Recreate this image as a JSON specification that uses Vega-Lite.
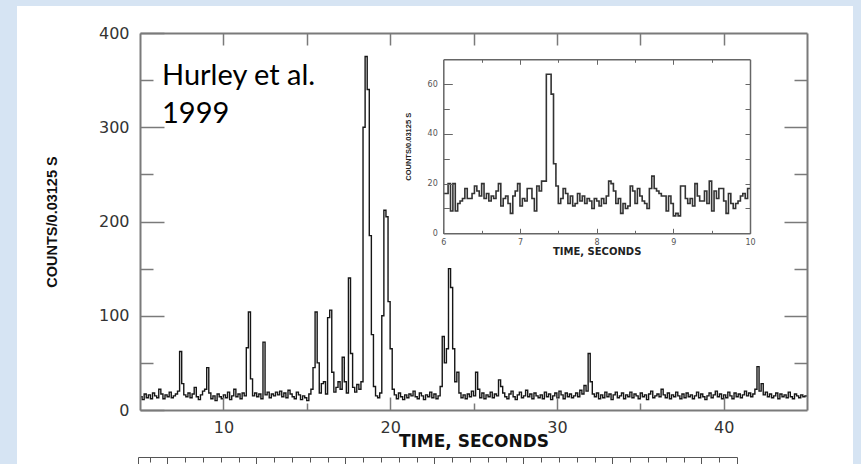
{
"$schema": "https://vega.github.io/schema/vega-lite/v6.json",
"width": 667, "height": 377,
"autosize": "none",
"padding": {"left": 140, "top": 33, "right": 54, "bottom": 54},
"background": "#d6e4f3",
"config": {"view": {"stroke": null}, "axis": {"grid": false, "labelFlush": false, "labelOverlap": false}},
"datasets": {
"main": [
{"t":5,"c":14},{"t":5.125,"c":11},{"t":5.25,"c":17},{"t":5.375,"c":13},{"t":5.5,"c":16},{"t":5.625,"c":12},{"t":5.75,"c":18},{"t":5.875,"c":15},
{"t":6,"c":13},{"t":6.125,"c":22},{"t":6.25,"c":17},{"t":6.375,"c":12},{"t":6.5,"c":16},{"t":6.625,"c":14},{"t":6.75,"c":19},{"t":6.875,"c":13},
{"t":7,"c":15},{"t":7.125,"c":17},{"t":7.25,"c":20},{"t":7.375,"c":62},{"t":7.5,"c":28},{"t":7.625,"c":16},{"t":7.75,"c":14},{"t":7.875,"c":18},
{"t":8,"c":13},{"t":8.125,"c":17},{"t":8.25,"c":24},{"t":8.375,"c":14},{"t":8.5,"c":11},{"t":8.625,"c":16},{"t":8.75,"c":20},{"t":8.875,"c":22},
{"t":9,"c":45},{"t":9.125,"c":18},{"t":9.25,"c":12},{"t":9.375,"c":15},{"t":9.5,"c":10},{"t":9.625,"c":17},{"t":9.75,"c":14},{"t":9.875,"c":12},
{"t":10,"c":16},{"t":10.125,"c":13},{"t":10.25,"c":19},{"t":10.375,"c":11},{"t":10.5,"c":15},{"t":10.625,"c":22},{"t":10.75,"c":14},{"t":10.875,"c":17},
{"t":11,"c":12},{"t":11.125,"c":18},{"t":11.25,"c":15},{"t":11.375,"c":66},{"t":11.5,"c":104},{"t":11.625,"c":33},{"t":11.75,"c":15},{"t":11.875,"c":18},
{"t":12,"c":14},{"t":12.125,"c":17},{"t":12.25,"c":12},{"t":12.375,"c":72},{"t":12.5,"c":16},{"t":12.625,"c":19},{"t":12.75,"c":13},{"t":12.875,"c":17},
{"t":13,"c":15},{"t":13.125,"c":19},{"t":13.25,"c":16},{"t":13.375,"c":20},{"t":13.5,"c":14},{"t":13.625,"c":18},{"t":13.75,"c":13},{"t":13.875,"c":21},
{"t":14,"c":17},{"t":14.125,"c":14},{"t":14.25,"c":12},{"t":14.375,"c":19},{"t":14.5,"c":16},{"t":14.625,"c":11},{"t":14.75,"c":15},{"t":14.875,"c":13},
{"t":15,"c":10},{"t":15.125,"c":17},{"t":15.25,"c":22},{"t":15.375,"c":45},{"t":15.5,"c":104},{"t":15.625,"c":50},{"t":15.75,"c":18},{"t":15.875,"c":28},
{"t":16,"c":30},{"t":16.125,"c":17},{"t":16.25,"c":98},{"t":16.375,"c":106},{"t":16.5,"c":40},{"t":16.625,"c":19},{"t":16.75,"c":24},{"t":16.875,"c":30},
{"t":17,"c":22},{"t":17.125,"c":56},{"t":17.25,"c":30},{"t":17.375,"c":18},{"t":17.5,"c":140},{"t":17.625,"c":60},{"t":17.75,"c":24},{"t":17.875,"c":19},
{"t":18,"c":27},{"t":18.125,"c":22},{"t":18.25,"c":30},{"t":18.375,"c":300},{"t":18.5,"c":375},{"t":18.625,"c":340},{"t":18.75,"c":185},{"t":18.875,"c":80},
{"t":19,"c":25},{"t":19.125,"c":15},{"t":19.25,"c":13},{"t":19.375,"c":18},{"t":19.5,"c":100},{"t":19.625,"c":212},{"t":19.75,"c":205},{"t":19.875,"c":115},
{"t":20,"c":65},{"t":20.125,"c":22},{"t":20.25,"c":16},{"t":20.375,"c":12},{"t":20.5,"c":18},{"t":20.625,"c":14},{"t":20.75,"c":11},{"t":20.875,"c":16},
{"t":21,"c":13},{"t":21.125,"c":17},{"t":21.25,"c":15},{"t":21.375,"c":20},{"t":21.5,"c":14},{"t":21.625,"c":12},{"t":21.75,"c":18},{"t":21.875,"c":15},
{"t":22,"c":11},{"t":22.125,"c":16},{"t":22.25,"c":14},{"t":22.375,"c":19},{"t":22.5,"c":13},{"t":22.625,"c":17},{"t":22.75,"c":12},{"t":22.875,"c":15},
{"t":23,"c":25},{"t":23.125,"c":78},{"t":23.25,"c":50},{"t":23.375,"c":65},{"t":23.5,"c":150},{"t":23.625,"c":130},{"t":23.75,"c":65},{"t":23.875,"c":30},
{"t":24,"c":40},{"t":24.125,"c":18},{"t":24.25,"c":13},{"t":24.375,"c":16},{"t":24.5,"c":12},{"t":24.625,"c":17},{"t":24.75,"c":14},{"t":24.875,"c":20},
{"t":25,"c":15},{"t":25.125,"c":40},{"t":25.25,"c":22},{"t":25.375,"c":13},{"t":25.5,"c":18},{"t":25.625,"c":12},{"t":25.75,"c":16},{"t":25.875,"c":14},
{"t":26,"c":19},{"t":26.125,"c":13},{"t":26.25,"c":17},{"t":26.375,"c":15},{"t":26.5,"c":32},{"t":26.625,"c":25},{"t":26.75,"c":18},{"t":26.875,"c":14},
{"t":27,"c":12},{"t":27.125,"c":17},{"t":27.25,"c":20},{"t":27.375,"c":14},{"t":27.5,"c":11},{"t":27.625,"c":16},{"t":27.75,"c":19},{"t":27.875,"c":13},
{"t":28,"c":15},{"t":28.125,"c":21},{"t":28.25,"c":14},{"t":28.375,"c":17},{"t":28.5,"c":12},{"t":28.625,"c":18},{"t":28.75,"c":15},{"t":28.875,"c":13},
{"t":29,"c":16},{"t":29.125,"c":12},{"t":29.25,"c":19},{"t":29.375,"c":14},{"t":29.5,"c":17},{"t":29.625,"c":11},{"t":29.75,"c":15},{"t":29.875,"c":18},
{"t":30,"c":13},{"t":30.125,"c":20},{"t":30.25,"c":16},{"t":30.375,"c":12},{"t":30.5,"c":18},{"t":30.625,"c":14},{"t":30.75,"c":17},{"t":30.875,"c":13},
{"t":31,"c":15},{"t":31.125,"c":18},{"t":31.25,"c":14},{"t":31.375,"c":21},{"t":31.5,"c":17},{"t":31.625,"c":26},{"t":31.75,"c":20},{"t":31.875,"c":60},
{"t":32,"c":30},{"t":32.125,"c":17},{"t":32.25,"c":14},{"t":32.375,"c":18},{"t":32.5,"c":12},{"t":32.625,"c":16},{"t":32.75,"c":13},{"t":32.875,"c":19},
{"t":33,"c":14},{"t":33.125,"c":17},{"t":33.25,"c":11},{"t":33.375,"c":16},{"t":33.5,"c":19},{"t":33.625,"c":13},{"t":33.75,"c":15},{"t":33.875,"c":18},
{"t":34,"c":12},{"t":34.125,"c":16},{"t":34.25,"c":14},{"t":34.375,"c":19},{"t":34.5,"c":13},{"t":34.625,"c":17},{"t":34.75,"c":15},{"t":34.875,"c":12},
{"t":35,"c":18},{"t":35.125,"c":14},{"t":35.25,"c":16},{"t":35.375,"c":11},{"t":35.5,"c":17},{"t":35.625,"c":20},{"t":35.75,"c":13},{"t":35.875,"c":15},
{"t":36,"c":17},{"t":36.125,"c":14},{"t":36.25,"c":22},{"t":36.375,"c":16},{"t":36.5,"c":13},{"t":36.625,"c":18},{"t":36.75,"c":12},{"t":36.875,"c":16},
{"t":37,"c":14},{"t":37.125,"c":19},{"t":37.25,"c":15},{"t":37.375,"c":12},{"t":37.5,"c":17},{"t":37.625,"c":13},{"t":37.75,"c":18},{"t":37.875,"c":14},
{"t":38,"c":16},{"t":38.125,"c":12},{"t":38.25,"c":15},{"t":38.375,"c":19},{"t":38.5,"c":13},{"t":38.625,"c":17},{"t":38.75,"c":14},{"t":38.875,"c":11},
{"t":39,"c":15},{"t":39.125,"c":18},{"t":39.25,"c":13},{"t":39.375,"c":16},{"t":39.5,"c":20},{"t":39.625,"c":14},{"t":39.75,"c":17},{"t":39.875,"c":12},
{"t":40,"c":16},{"t":40.125,"c":13},{"t":40.25,"c":19},{"t":40.375,"c":15},{"t":40.5,"c":12},{"t":40.625,"c":18},{"t":40.75,"c":14},{"t":40.875,"c":17},
{"t":41,"c":13},{"t":41.125,"c":16},{"t":41.25,"c":20},{"t":41.375,"c":15},{"t":41.5,"c":18},{"t":41.625,"c":14},{"t":41.75,"c":17},{"t":41.875,"c":22},
{"t":42,"c":46},{"t":42.125,"c":20},{"t":42.25,"c":28},{"t":42.375,"c":16},{"t":42.5,"c":19},{"t":42.625,"c":14},{"t":42.75,"c":17},{"t":42.875,"c":13},
{"t":43,"c":15},{"t":43.125,"c":18},{"t":43.25,"c":12},{"t":43.375,"c":17},{"t":43.5,"c":14},{"t":43.625,"c":16},{"t":43.75,"c":13},{"t":43.875,"c":19},
{"t":44,"c":14},{"t":44.125,"c":12},{"t":44.25,"c":17},{"t":44.375,"c":15},{"t":44.5,"c":13},{"t":44.625,"c":16},{"t":44.75,"c":14},{"t":44.875,"c":15},
{"t":45,"c":14}
],
"inset": [
{"t":6,"c":16},{"t":6.03125,"c":16},{"t":6.0625,"c":20},{"t":6.09375,"c":9},{"t":6.125,"c":20},{"t":6.15625,"c":9},{"t":6.1875,"c":12},{"t":6.21875,"c":13},
{"t":6.25,"c":14},{"t":6.28125,"c":18},{"t":6.3125,"c":14},{"t":6.34375,"c":14},{"t":6.375,"c":16},{"t":6.40625,"c":19},{"t":6.4375,"c":17},{"t":6.46875,"c":15},
{"t":6.5,"c":20},{"t":6.53125,"c":14},{"t":6.5625,"c":16},{"t":6.59375,"c":13},{"t":6.625,"c":15},{"t":6.65625,"c":14},{"t":6.6875,"c":17},{"t":6.71875,"c":20},
{"t":6.75,"c":11},{"t":6.78125,"c":14},{"t":6.8125,"c":15},{"t":6.84375,"c":12},{"t":6.875,"c":8},{"t":6.90625,"c":15},{"t":6.9375,"c":17},{"t":6.96875,"c":20},
{"t":7,"c":11},{"t":7.03125,"c":14},{"t":7.0625,"c":13},{"t":7.09375,"c":18},{"t":7.125,"c":18},{"t":7.15625,"c":14},{"t":7.1875,"c":9},{"t":7.21875,"c":19},
{"t":7.25,"c":17},{"t":7.28125,"c":21},{"t":7.3125,"c":21},{"t":7.34375,"c":64},{"t":7.375,"c":64},{"t":7.40625,"c":56},{"t":7.4375,"c":28},{"t":7.46875,"c":19},
{"t":7.5,"c":12},{"t":7.53125,"c":14},{"t":7.5625,"c":18},{"t":7.59375,"c":16},{"t":7.625,"c":12},{"t":7.65625,"c":15},{"t":7.6875,"c":11},{"t":7.71875,"c":12},
{"t":7.75,"c":16},{"t":7.78125,"c":13},{"t":7.8125,"c":15},{"t":7.84375,"c":12},{"t":7.875,"c":14},{"t":7.90625,"c":13},{"t":7.9375,"c":10},{"t":7.96875,"c":14},
{"t":8,"c":13},{"t":8.03125,"c":11},{"t":8.0625,"c":14},{"t":8.09375,"c":12},{"t":8.125,"c":15},{"t":8.15625,"c":21},{"t":8.1875,"c":20},{"t":8.21875,"c":17},
{"t":8.25,"c":12},{"t":8.28125,"c":14},{"t":8.3125,"c":8},{"t":8.34375,"c":12},{"t":8.375,"c":10},{"t":8.40625,"c":11},{"t":8.4375,"c":19},{"t":8.46875,"c":17},
{"t":8.5,"c":12},{"t":8.53125,"c":18},{"t":8.5625,"c":15},{"t":8.59375,"c":13},{"t":8.625,"c":12},{"t":8.65625,"c":10},{"t":8.6875,"c":18},{"t":8.71875,"c":23},
{"t":8.75,"c":18},{"t":8.78125,"c":17},{"t":8.8125,"c":16},{"t":8.84375,"c":15},{"t":8.875,"c":15},{"t":8.90625,"c":9},{"t":8.9375,"c":15},{"t":8.96875,"c":12},
{"t":9,"c":7},{"t":9.03125,"c":8},{"t":9.0625,"c":7},{"t":9.09375,"c":19},{"t":9.125,"c":19},{"t":9.15625,"c":14},{"t":9.1875,"c":12},{"t":9.21875,"c":14},
{"t":9.25,"c":11},{"t":9.28125,"c":20},{"t":9.3125,"c":15},{"t":9.34375,"c":13},{"t":9.375,"c":13},{"t":9.40625,"c":17},{"t":9.4375,"c":12},{"t":9.46875,"c":21},
{"t":9.5,"c":9},{"t":9.53125,"c":17},{"t":9.5625,"c":14},{"t":9.59375,"c":18},{"t":9.625,"c":18},{"t":9.65625,"c":13},{"t":9.6875,"c":8},{"t":9.71875,"c":16},
{"t":9.75,"c":12},{"t":9.78125,"c":10},{"t":9.8125,"c":12},{"t":9.84375,"c":13},{"t":9.875,"c":15},{"t":9.90625,"c":16},{"t":9.9375,"c":14},{"t":9.96875,"c":18},
{"t":10,"c":18}
]
},
"layer": [
{
"layer": [
{
"data": {"values": [{}]},
"mark": {"type": "rect", "fill": "white"},
"encoding": {
"x": {"datum": -2.376, "type": "quantitative", "scale": {"domain": [5, 45], "nice": false, "zero": false}, "axis": null},
"x2": {"datum": 47.76},
"y": {"datum": 428.6, "type": "quantitative", "scale": {"domain": [0, 400], "nice": false, "zero": false}, "axis": null},
"y2": {"datum": -63.7}
}
},
{
"data": {"name": "main"},
"mark": {"type": "line", "interpolate": "step-after", "stroke": "#161616", "strokeWidth": 1.4},
"encoding": {
"x": {"field": "t", "type": "quantitative", "scale": {"domain": [5, 45], "nice": false, "zero": false},
"axis": {"orient": "bottom", "zindex": 1, "values": [10, 15, 20, 25, 30, 35, 40],
"labelExpr": "datum.value % 10 === 0 ? datum.label : ''",
"tickSize": {"condition": {"test": "datum.value % 10 === 0", "value": -13}, "value": -7},
"labelPadding": 22, "labelFont": "DejaVu Sans", "labelFontSize": 16, "labelColor": "#333", "labelBaseline": "top",
"tickColor": "#7a7a7a", "tickWidth": 1.5, "domainColor": "#7a7a7a", "domainWidth": 2,
"title": "TIME, SECONDS", "titleFont": "DejaVu Sans", "titleFontSize": 17, "titleFontWeight": "bold", "titleColor": "#111",
"titleX": 333.5, "titleY": 36, "titleBaseline": "alphabetic"}},
"y": {"field": "c", "type": "quantitative", "scale": {"domain": [0, 400], "nice": false, "zero": false},
"axis": {"orient": "left", "zindex": 1, "values": [0, 50, 100, 150, 200, 250, 300, 350, 400],
"labelExpr": "datum.value % 100 === 0 ? datum.label : ''",
"tickSize": {"condition": {"test": "datum.value % 100 === 0", "value": -24}, "value": -13},
"labelPadding": 35, "labelFont": "DejaVu Sans", "labelFontSize": 16, "labelColor": "#333", "labelBaseline": "middle", "labelAlign": "right",
"tickColor": "#7a7a7a", "tickWidth": 1.5, "domainColor": "#7a7a7a", "domainWidth": 2,
"title": "COUNTS/0.03125 S", "titleFont": "Liberation Sans", "titleFontSize": 14.5, "titleFontWeight": "bold", "titleColor": "#111",
"titleX": -84, "titleY": 188.5, "titleAngle": 270, "titleBaseline": "alphabetic", "titleAlign": "center"}}
}
},
{
"data": {"values": [{"t": 5, "c": 0}]},
"mark": {"type": "point", "opacity": 0},
"encoding": {
"x": {"field": "t", "type": "quantitative", "scale": {"domain": [5, 45], "nice": false, "zero": false},
"axis": {"orient": "top", "zindex": 1, "values": [10, 15, 20, 25, 30, 35, 40], "labels": false, "tickSize": -12,
"tickColor": "#7a7a7a", "tickWidth": 1.5, "domainColor": "#7a7a7a", "domainWidth": 2, "title": null}},
"y": {"field": "c", "type": "quantitative", "scale": {"domain": [0, 400], "nice": false, "zero": false},
"axis": {"orient": "right", "zindex": 1, "values": [50, 100, 150, 200, 250, 300, 350], "labels": false,
"tickSize": {"condition": {"test": "datum.value % 100 === 0", "value": -23}, "value": -13},
"tickColor": "#7a7a7a", "tickWidth": 1.5, "domainColor": "#7a7a7a", "domainWidth": 2, "title": null}}
}
},
{
"data": {"values": [{}]},
"mark": {"type": "text", "text": ["Hurley et al.", "1999"], "font": "Lato", "fontSize": 29, "lineHeight": 38, "align": "left", "baseline": "alphabetic", "color": "#000000"},
"encoding": {
"x": {"datum": 6.32, "type": "quantitative", "scale": {"domain": [5, 45], "nice": false, "zero": false}, "axis": null},
"y": {"datum": 344.8, "type": "quantitative", "scale": {"domain": [0, 400], "nice": false, "zero": false}, "axis": null}
}
}
],
"resolve": {"axis": {"x": "independent", "y": "independent"}}
},
{
"layer": [
{
"data": {"name": "inset"},
"mark": {"type": "line", "interpolate": "step-after", "stroke": "#333333", "strokeWidth": 1.6},
"encoding": {
"x": {"field": "t", "type": "quantitative", "scale": {"domain": [6, 10], "range": [303.3, 610], "nice": false, "zero": false},
"axis": {"orient": "bottom", "zindex": 1, "offset": -176.7, "values": [6, 6.5, 7, 7.5, 8, 8.5, 9, 9.5, 10],
"labelExpr": "datum.value % 1 === 0 ? format(datum.value, 'd') : ''",
"tickSize": {"condition": {"test": "datum.value % 1 === 0", "value": -5}, "value": -3},
"labelPadding": 10.5, "labelFont": "DejaVu Sans", "labelFontSize": 8, "labelColor": "#555", "labelBaseline": "top",
"tickColor": "#666", "tickWidth": 1, "domainColor": "#666", "domainWidth": 1.5,
"title": "TIME, SECONDS", "titleFont": "DejaVu Sans", "titleFontSize": 10, "titleFontWeight": "bold", "titleColor": "#222",
"titleX": 456.65, "titleY": 21, "titleBaseline": "alphabetic"}},
"y": {"field": "c", "type": "quantitative", "scale": {"domain": [0, 70], "range": [200.3, 26.3], "nice": false, "zero": false},
"axis": {"orient": "left", "zindex": 1, "offset": -303.3, "values": [0, 10, 20, 30, 40, 50, 60],
"labelExpr": "datum.value % 20 === 0 ? datum.label : ''",
"tickSize": {"condition": {"test": "datum.value % 20 === 0", "value": -9}, "value": -6},
"labelPadding": 15, "labelFont": "DejaVu Sans", "labelFontSize": 8, "labelColor": "#555", "labelBaseline": "middle", "labelAlign": "right",
"tickColor": "#666", "tickWidth": 1, "domainColor": "#666", "domainWidth": 1.5,
"title": "COUNTS/0.03125 S", "titleFont": "Liberation Sans", "titleFontSize": 7.5, "titleFontWeight": "bold", "titleColor": "#222",
"titleX": -33.3, "titleY": 113.3, "titleAngle": 270, "titleBaseline": "alphabetic", "titleAlign": "center"}}
}
},
{
"data": {"values": [{"t": 6, "c": 0}]},
"mark": {"type": "point", "opacity": 0},
"encoding": {
"x": {"field": "t", "type": "quantitative", "scale": {"domain": [6, 10], "range": [303.3, 610], "nice": false, "zero": false},
"axis": {"orient": "top", "zindex": 1, "offset": -26.3, "values": [6.5, 7, 7.5, 8, 8.5, 9, 9.5], "labels": false,
"tickSize": {"condition": {"test": "datum.value % 1 === 0", "value": -5}, "value": -3},
"tickColor": "#666", "tickWidth": 1, "domainColor": "#666", "domainWidth": 1.5, "title": null}},
"y": {"field": "c", "type": "quantitative", "scale": {"domain": [0, 70], "range": [200.3, 26.3], "nice": false, "zero": false},
"axis": {"orient": "right", "zindex": 1, "offset": -57, "values": [10, 20, 30, 40, 50, 60], "labels": false, "tickSize": -5,
"tickColor": "#666", "tickWidth": 1, "domainColor": "#666", "domainWidth": 1.5, "title": null}}
}
}
],
"resolve": {"axis": {"x": "independent", "y": "independent"}}
},
{
"data": {"values": [{"u": 0}]},
"mark": {"type": "point", "opacity": 0},
"encoding": {
"x": {"field": "u", "type": "quantitative", "scale": {"domain": [-1.657, 32], "range": [-2, 597], "nice": false, "zero": false},
"axis": {"orient": "bottom", "zindex": 1, "offset": 47, "values": [-1.657, -1, 0, 1, 2, 3, 4, 5, 6, 7, 8, 9, 10, 11, 12, 13, 14, 15, 16, 17, 18, 19, 20, 21, 22, 23, 24, 25, 26, 27, 28, 29, 30, 31, 32],
"labels": false,
"tickSize": {"condition": {"test": "datum.value % 5 === 0 || datum.value > 31.5 || datum.value < -1.5", "value": 9}, "value": 5},
"tickColor": "#555", "tickWidth": 1, "domainColor": "#555", "domainWidth": 1, "title": null}}
}
}
],
"resolve": {"scale": {"x": "independent", "y": "independent"}}
}
